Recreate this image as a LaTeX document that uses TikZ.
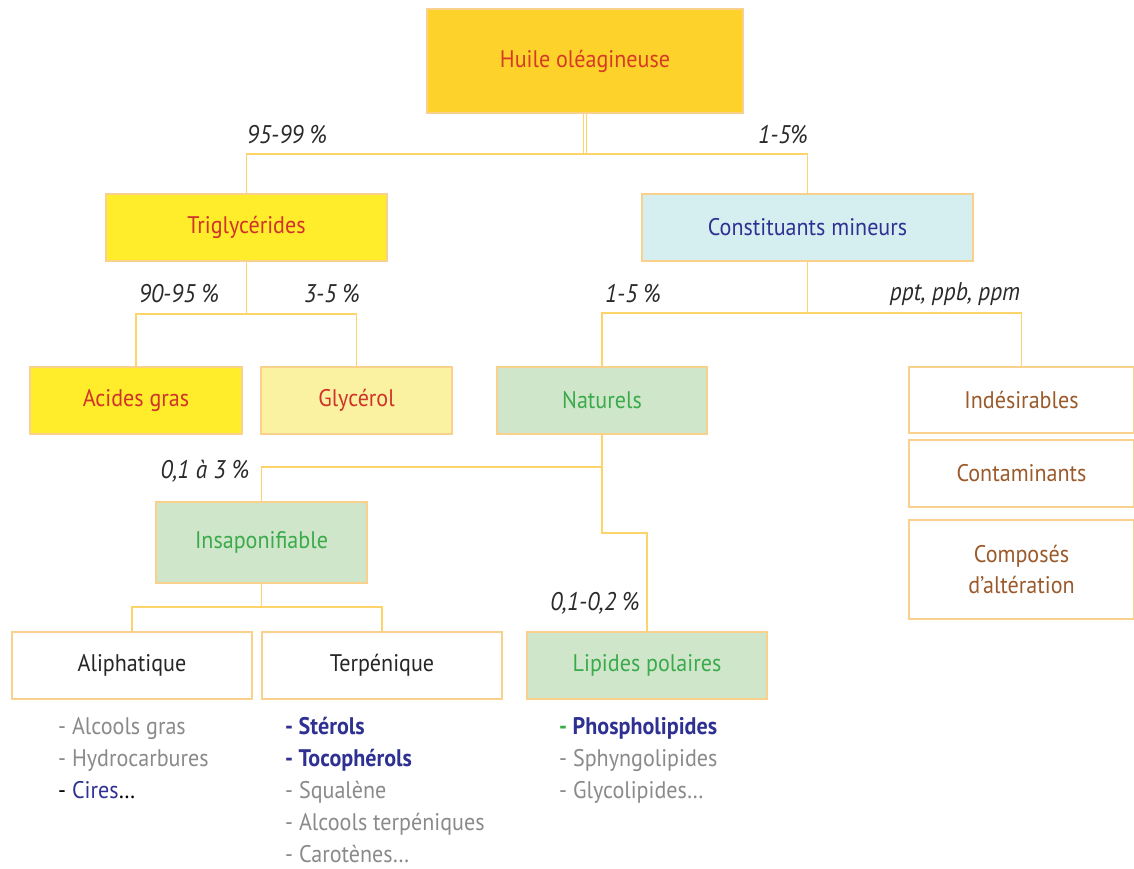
\documentclass[tikz,border=0pt]{standalone}
\usepackage{fontspec}
\setmainfont{PT Sans}[FakeStretch=0.92]
\definecolor{goldfill}{HTML}{FDD22B}
\definecolor{yelfill}{HTML}{FFEC2B}
\definecolor{paleyel}{HTML}{FAF2A0}
\definecolor{bluefill}{HTML}{D5EEF0}
\definecolor{greenfill}{HTML}{CFE6CA}
\definecolor{linecol}{HTML}{FCD46A}
\definecolor{bordercol}{HTML}{F9D08C}
\definecolor{redtxt}{HTML}{D0332A}
\definecolor{bluetxt}{HTML}{2E3192}
\definecolor{greentxt}{HTML}{3AAA4A}
\definecolor{browntxt}{HTML}{9B5A2B}
\definecolor{graytxt}{HTML}{8A8A8A}
\definecolor{labeltxt}{HTML}{2A2A2A}
\newcommand{\boxfnt}{\fontsize{24}{31}\selectfont}
\newcommand{\itemfnt}{\fontsize{24}{28}\selectfont}
\newcommand{\pctfnt}{\fontsize{25.5}{28}\selectfont\itshape}
\begin{document}
\begin{tikzpicture}[x=1pt,y=-1pt,
  box/.style={draw=bordercol, line width=1.2pt, inner sep=0pt, align=center, font=\boxfnt},
  link/.style={draw=linecol, line width=1.3pt},
  dbl/.style={draw=linecol, line width=0.9pt, double=white, double distance=2.6pt},
  pct/.style={font=\pctfnt, text=labeltxt, inner sep=0pt},
  item/.style={anchor=base west, inner sep=0pt, font=\itemfnt, text=graytxt}]
\useasboundingbox[fill=white] (0,0) rectangle (1134,869);

% boxes
\node[box, fill=goldfill, text=redtxt!90!orange, minimum width=316pt, minimum height=104pt] (huile) at (585,61) {Huile oléagineuse};
\node[box, fill=yelfill, text=redtxt, minimum width=281pt, minimum height=67pt] (trig) at (246.5,227.5) {Triglycérides};
\node[box, fill=bluefill, text=bluetxt, minimum width=331pt, minimum height=67pt] (const) at (807.5,227.5) {Constituants mineurs};
\node[box, fill=yelfill, text=redtxt, minimum width=212pt, minimum height=67pt] (acides) at (136,400.5) {Acides gras};
\node[box, fill=paleyel, text=redtxt, minimum width=191pt, minimum height=67pt] (glyc) at (356.5,400.5) {Glycérol};
\node[box, fill=greenfill, text=greentxt, minimum width=210pt, minimum height=67pt] (nat) at (602,400.5) {Naturels};
\node[box, fill=white, text=browntxt, minimum width=225pt, minimum height=66pt] (indes) at (1021.5,400) {Indésirables};
\node[box, fill=white, text=browntxt, minimum width=225pt, minimum height=67pt] (contam) at (1021.5,473.5) {Contaminants};
\node[box, fill=white, text=browntxt, minimum width=225pt, minimum height=99pt] (compos) at (1021.5,569.5) {Composés\\d’altération};
\node[box, fill=greenfill, text=greentxt, minimum width=211pt, minimum height=81pt] (insap) at (261.5,542.5) {Insaponifiable};
\node[box, fill=white, text=black!85, minimum width=240pt, minimum height=67pt] (aliph) at (132,665.5) {Aliphatique};
\node[box, fill=white, text=black!85, minimum width=240pt, minimum height=67pt] (terp) at (382,665.5) {Terpénique};
\node[box, fill=greenfill, text=greentxt, minimum width=240pt, minimum height=67pt] (lip) at (647,665.5) {Lipides polaires};

% junctions
\coordinate (j1) at (585,154);
\coordinate (j2) at (246.5,314);
\coordinate (j3) at (807.5,313);
\coordinate (j4) at (602,467);
\coordinate (j5) at (602,533);
\coordinate (j6) at (261.5,607);

% connectors
\draw[dbl] (huile.south) -- (j1);
\draw[link] (trig.north) |- (j1) -| (const.north);
\draw[link] (trig.south) -- (j2);
\draw[link] (acides.north) |- (j2) -| (glyc.north);
\draw[link] (const.south) -- (j3);
\draw[link] (nat.north) |- (j3) -| (indes.north);
\draw[link] (insap.north) |- (j4) -- (nat.south);
\draw[link] (j4) -- (j5) -| (lip.north);
\draw[link] (insap.south) -- (j6);
\draw[link] (aliph.north) |- (j6) -| (terp.north);

% percentages
\node[pct] (p1) at (287,135) {95-99 \%};
\node[pct] (p2) at (783,135) {1-5\%};
\node[pct] (p3) at (179,294) {90-95 \%};
\node[pct] (p4) at (332,294) {3-5 \%};
\node[pct] (p5) at (633,294) {1-5 \%};
\node[pct] (p6) at (955,294) {ppt, ppb, ppm};
\node[pct] (p7) at (205,471) {0,1 à 3 \%};
\node[pct] (p8) at (595,603) {0,1-0,2 \%};

% lists
\node[item] (a1) at (58,734) {- Alcools gras};
\node[item] (a2) at (58,766) {- Hydrocarbures};
\node[item] (a3) at (58,798) {\textcolor{black}{-} \textcolor{bluetxt}{Cires}\textcolor{black}{…}};
\node[item, text=bluetxt] (t1) at (285,734) {\textbf{- Stérols}};
\node[item, text=bluetxt] (t2) at (285,766) {\textbf{- Tocophérols}};
\node[item] (t3) at (285,798) {- Squalène};
\node[item] (t4) at (285,830) {- Alcools terpéniques};
\node[item] (t5) at (285,862) {- Carotènes…};
\node[item, text=bluetxt] (l1) at (559,734) {\textbf{\textcolor{greentxt}{-} Phospholipides}};
\node[item] (l2) at (559,766) {- Sphyngolipides};
\node[item] (l3) at (559,798) {- Glycolipides…};
\end{tikzpicture}
\end{document}
